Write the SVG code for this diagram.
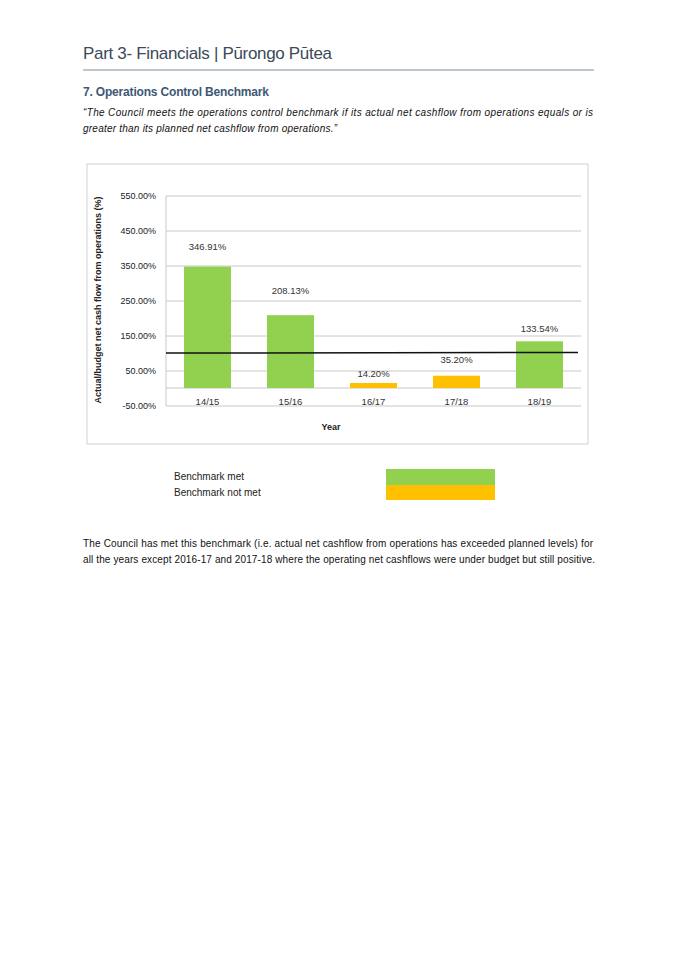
<svg xmlns="http://www.w3.org/2000/svg" width="675" height="955" viewBox="0 0 675 955">
<style>
text{font-family:"Liberation Sans","Noto Sans",sans-serif;fill:#222}
.ax{font-size:9px;fill:#333}
.lb{font-size:9.5px;fill:#333;text-anchor:middle}
.grid{stroke:#c8c8c8;stroke-width:1}
.g{fill:#92d050}
.o{fill:#ffc000}
.body{font-size:10px;fill:#111}
</style>
<rect width="675" height="955" fill="#fff"/>
<text x="83" y="59" textLength="249" style="font-size:17px;fill:#3b4a5a">Part 3- Financials | Pūrongo Pūtea</text>
<line x1="83" y1="70" x2="594" y2="70" stroke="#7a8a9a" stroke-width="1"/>
<text x="83" y="96" textLength="186" style="font-size:12px;font-weight:bold;fill:#3d5876">7. Operations Control Benchmark</text>
<text class="body" x="83" y="116" font-style="italic" textLength="510">“The Council meets the operations control benchmark if its actual net cashflow from operations equals or is</text>
<text class="body" x="83" y="132" font-style="italic" textLength="254">greater than its planned net cashflow from operations.”</text>

<g id="chart">
<rect x="87" y="164" width="501" height="280" fill="#fff" stroke="#d0d0d0"/>
<g id="grid">
<line class="grid" x1="166" y1="196" x2="581" y2="196"/>
<line class="grid" x1="166" y1="231" x2="581" y2="231"/>
<line class="grid" x1="166" y1="266" x2="581" y2="266"/>
<line class="grid" x1="166" y1="301" x2="581" y2="301"/>
<line class="grid" x1="166" y1="336" x2="581" y2="336"/>
<line class="grid" x1="166" y1="371" x2="581" y2="371"/>
<line class="grid" x1="166" y1="388" x2="581" y2="388"/>
<line class="grid" x1="166" y1="406" x2="581" y2="406"/>
<line class="grid" x1="166" y1="196" x2="166" y2="406"/>
</g>
<g class="ax" text-anchor="end">
<text x="156" y="199">550.00%</text>
<text x="156" y="234">450.00%</text>
<text x="156" y="269">350.00%</text>
<text x="156" y="304">250.00%</text>
<text x="156" y="339">150.00%</text>
<text x="156" y="374">50.00%</text>
<text x="156" y="409">-50.00%</text>
</g>
<text transform="translate(101,300) rotate(-90)" text-anchor="middle" style="font-size:9px;font-weight:bold">Actual/budget net cash flow from operations (%)</text>
<g id="bar1"><rect class="g" x="184" y="266.6" width="47" height="121.4"/><text class="lb" x="207.5" y="250">346.91%</text><text class="lb" x="207.5" y="405">14/15</text></g>
<g id="bar2"><rect class="g" x="267" y="315.2" width="47" height="72.8"/><text class="lb" x="290.5" y="294">208.13%</text><text class="lb" x="290.5" y="405">15/16</text></g>
<g id="bar3"><rect class="o" x="350" y="383" width="47" height="5"/><text class="lb" x="373.5" y="377">14.20%</text><text class="lb" x="373.5" y="405">16/17</text></g>
<g id="bar4"><rect class="o" x="433" y="375.7" width="47" height="12.3"/><text class="lb" x="456.5" y="363">35.20%</text><text class="lb" x="456.5" y="405">17/18</text></g>
<g id="bar5"><rect class="g" x="516" y="341.3" width="47" height="46.7"/><text class="lb" x="539.5" y="332">133.54%</text><text class="lb" x="539.5" y="405">18/19</text></g>
<line x1="166" y1="353" x2="578" y2="352.5" stroke="#111" stroke-width="1.5"/>
<text x="331" y="430" text-anchor="middle" style="font-size:9px;font-weight:bold">Year</text>
</g>

<g id="legend">
<text x="174" y="480" style="font-size:10px">Benchmark met</text>
<text x="174" y="496" style="font-size:10px">Benchmark not met</text>
<rect class="g" x="386" y="469" width="109" height="16"/>
<rect class="o" x="386" y="485" width="109" height="15"/>
</g>

<text class="body" x="83" y="547" textLength="510">The Council has met this benchmark (i.e. actual net cashflow from operations has exceeded planned levels) for</text>
<text class="body" x="83" y="563" textLength="512">all the years except 2016-17 and 2017-18 where the operating net cashflows were under budget but still positive.</text>
</svg>
